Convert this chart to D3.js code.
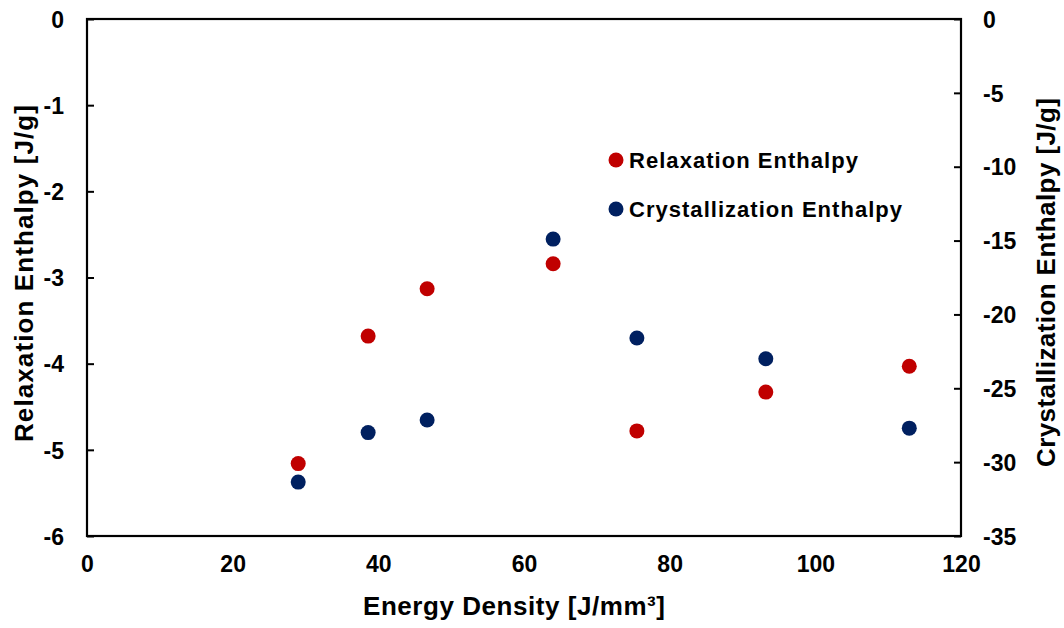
<!DOCTYPE html>
<html><head><meta charset="utf-8">
<script src="https://cdn.jsdelivr.net/npm/d3@7"></script>
<style>body{margin:0;background:#fff}svg{display:block}text{font-family:"Liberation Sans",Arial,sans-serif;font-weight:bold}</style>
</head><body>
<svg id="c" width="1064" height="628"></svg>
<script>
const energyDensity = [29.0, 38.6, 46.7, 64.0, 75.5, 93.2, 112.9];
const relaxation = [-5.16, -3.68, -3.13, -2.84, -4.78, -4.33, -4.03];
const crystallization = [-31.35, -28.0, -27.15, -14.9, -21.6, -23.0, -27.7];
const xTicks = [0, 20, 40, 60, 80, 100, 120];
const yLeftTicks = [0, -1, -2, -3, -4, -5, -6];
const yRightTicks = [0, -5, -10, -15, -20, -25, -30, -35];
const seriesNames = ["Relaxation Enthalpy", "Crystallization Enthalpy"];
const colors = ["#C00000", "#002060"];

const fmt = d => String(d);
const svg = d3.select("#c");
const L = 87, R = 961, T = 19, B = 536;
const x = d3.scaleLinear().domain([0,120]).range([L,R]);
const yL = d3.scaleLinear().domain([-6,0]).range([B,T]);
const yR = d3.scaleLinear().domain([-35,0]).range([B,T]);

svg.append("rect").attr("x",L).attr("y",T).attr("width",R-L).attr("height",B-T)
  .attr("fill","none").attr("stroke","#000").attr("stroke-width",2.2);

const gl = svg.append("g").attr("transform",`translate(${L},0)`)
  .call(d3.axisRight(yL).tickValues(yLeftTicks).tickSize(7).tickFormat(fmt));
gl.select(".domain").remove();
gl.selectAll(".tick line").attr("stroke","#000").attr("stroke-width",2);
gl.selectAll(".tick text").attr("x",-23).attr("text-anchor","end").attr("font-size",23).attr("fill","#000").attr("dy","0.36em");

const gr = svg.append("g").attr("transform",`translate(${R},0)`)
  .call(d3.axisLeft(yR).tickValues(yRightTicks).tickSize(7).tickFormat(fmt));
gr.select(".domain").remove();
gr.selectAll(".tick line").attr("stroke","#000").attr("stroke-width",2);
gr.selectAll(".tick text").attr("x",22).attr("text-anchor","start").attr("font-size",23).attr("fill","#000").attr("dy","0.36em");

const gx = svg.append("g").attr("transform",`translate(0,${B})`)
  .call(d3.axisBottom(x).tickValues(xTicks).tickSize(0).tickFormat(fmt));
gx.select(".domain").remove();
gx.selectAll(".tick text").attr("y",36).attr("dy",0).attr("font-size",23).attr("fill","#000");

svg.append("text").attr("x",514).attr("y",615).attr("text-anchor","middle").attr("font-size",26)
  .attr("textLength",302).attr("lengthAdjust","spacing")
  .text("Energy Density [J/mm³]");
svg.append("text").attr("transform",`translate(33,273.5) rotate(-90)`).attr("text-anchor","middle").attr("font-size",26)
  .attr("textLength",337).attr("lengthAdjust","spacing")
  .text("Relaxation Enthalpy [J/g]");
svg.append("text").attr("transform",`translate(1055,282.5) rotate(-90)`).attr("text-anchor","middle").attr("font-size",26)
  .attr("textLength",369).attr("lengthAdjust","spacing")
  .text("Crystallization Enthalpy [J/g]");

svg.append("g").selectAll("circle").data(energyDensity).join("circle")
  .attr("cx",d=>x(d)).attr("cy",(d,i)=>yL(relaxation[i])).attr("r",7.5).attr("fill",colors[0]);
svg.append("g").selectAll("circle").data(energyDensity).join("circle")
  .attr("cx",d=>x(d)).attr("cy",(d,i)=>yR(crystallization[i])).attr("r",7.5).attr("fill",colors[1]);

const lg = svg.append("g");
const lens = [229, 273];
seriesNames.forEach((n,i)=>{
  const yy = 160 + i*49;
  lg.append("circle").attr("cx",616).attr("cy",yy).attr("r",7.5).attr("fill",colors[i]);
  lg.append("text").attr("x",629).attr("y",yy).attr("dy","0.36em").attr("font-size",22)
    .attr("textLength",lens[i]).attr("lengthAdjust","spacing").text(n);
});
</script>
</body></html>
